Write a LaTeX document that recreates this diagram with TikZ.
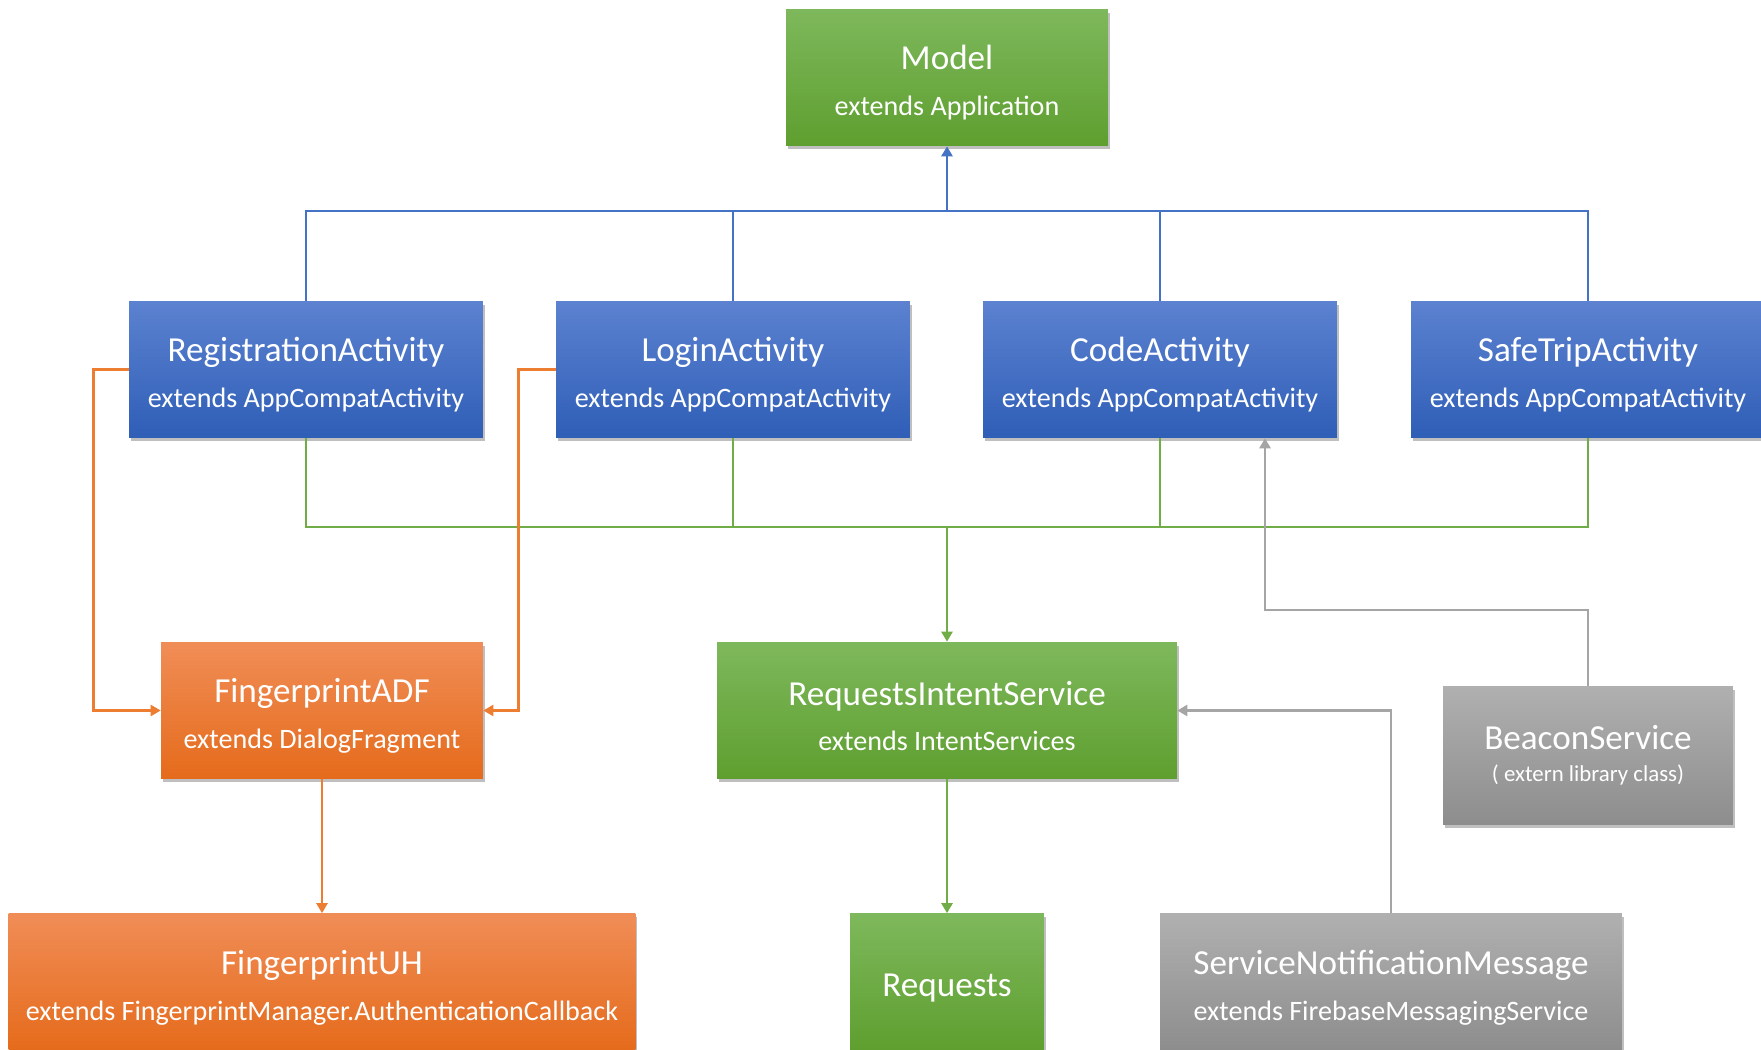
\documentclass[tikz,border=0pt]{standalone}
\usepackage{fontspec}
\setmainfont{Carlito}
\usetikzlibrary{arrows.meta,positioning,shadows}
\definecolor{lineblue}{HTML}{4472C4}
\definecolor{linegreen}{HTML}{70AD47}
\definecolor{lineorange}{HTML}{ED7D31}
\definecolor{linegray}{HTML}{A5A5A5}
\definecolor{bluetop}{HTML}{5C82D0}
\definecolor{bluebot}{HTML}{2F5EB7}
\definecolor{greentop}{HTML}{7EB85C}
\definecolor{greenbot}{HTML}{5E9F2F}
\definecolor{orangetop}{HTML}{F08D57}
\definecolor{orangebot}{HTML}{E56B1B}
\definecolor{graytop}{HTML}{B0B0B0}
\definecolor{graybot}{HTML}{8D8D8D}
\tikzset{
  classbox/.style={rectangle,align=center,text=white,inner sep=0pt,minimum height=2.74cm,
    font=\fontsize{16}{26}\selectfont,
    drop shadow={shadow xshift=0.04cm,shadow yshift=-0.07cm,opacity=0.25,fill=black}},
  bluebox/.style={classbox,top color=bluetop,bottom color=bluebot,minimum width=7.08cm},
  greenbox/.style={classbox,top color=greentop,bottom color=greenbot},
  orangebox/.style={classbox,top color=orangetop,bottom color=orangebot},
  graybox/.style={classbox,top color=graytop,bottom color=graybot},
  link/.style={line width=1.5pt},
  linkarrow/.style={link,-{Triangle[length=2mm,width=2.2mm]}}
}
\newcommand{\clsname}[1]{{\fontsize{20}{24}\selectfont\rule{0pt}{20pt}#1}}

\begin{document}
\begin{tikzpicture}[x=0.02cm,y=-0.02cm]
  \useasboundingbox (0,0) rectangle (1761,1050);
  % classes
  \node[greenbox,minimum width=6.44cm] (model) at (947,77.5) {\clsname{Model}\\extends Application};
  \node[bluebox] (reg) at (306,369.5) {\clsname{RegistrationActivity}\\extends AppCompatActivity};
  \node[bluebox] (login) at (733,369.5) {\clsname{LoginActivity}\\extends AppCompatActivity};
  \node[bluebox] (code) at (1160,369.5) {\clsname{CodeActivity}\\extends AppCompatActivity};
  \node[bluebox] (safe) at (1588,369.5) {\clsname{SafeTripActivity}\\extends AppCompatActivity};
  \node[orangebox,minimum width=6.44cm] (fadf) at (322,710.5) {\clsname{FingerprintADF}\\extends DialogFragment};
  \node[greenbox,minimum width=9.2cm] (ris) at (947,710.5) {\clsname{RequestsIntentService}\\extends IntentServices};
  \node[graybox,minimum width=5.8cm,minimum height=2.78cm,font=\fontsize{13}{18}\selectfont] (beacon) at (1588,755.5) {{\fontsize{20}{24}\selectfont BeaconService}\\( extern library class)};
  \node[orangebox,minimum width=12.54cm] (fuh) at (322,982) {\clsname{FingerprintUH}\\extends FingerprintManager.AuthenticationCallback};
  \node[greenbox,minimum width=3.88cm] (req) at (947,982) {\clsname{Requests}};
  \node[graybox,minimum width=9.24cm] (snm) at (1391,982) {\clsname{ServiceNotificationMessage}\\extends FirebaseMessagingService};

  % inheritance bus to Model
  \coordinate (bluebus) at (947,211);
  \draw[link,lineblue] (reg.north) |- (bluebus) -| (safe.north);
  \draw[link,lineblue] (login.north) -- (login.north |- bluebus);
  \draw[link,lineblue] (code.north) -- (code.north |- bluebus);
  \draw[linkarrow,lineblue] (bluebus) -- (model.south);

  % activities to the service
  \coordinate (greenbus) at (947,527);
  \draw[link,linegreen] (reg.south) |- (greenbus) -| (safe.south);
  \draw[link,linegreen] (login.south) -- (login.south |- greenbus);
  \draw[link,linegreen] (code.south) -- (code.south |- greenbus);
  \draw[linkarrow,linegreen] (greenbus) -- (ris.north);
  \draw[linkarrow,linegreen] (ris.south) -- (req.north);

  % fingerprint
  \draw[linkarrow,lineorange] (reg.west) -- ++(-35,0) |- (fadf.west);
  \draw[linkarrow,lineorange] (login.west) -- ++(-37,0) |- (fadf.east);
  \draw[linkarrow,lineorange] (fadf.south) -- (fuh.north);

  % services
  \coordinate (beaconbend) at (1265,610);
  \draw[linkarrow,linegray] (beacon.north) |- (beaconbend) -- (beaconbend |- code.south);
  \draw[linkarrow,linegray] (snm.north) |- (ris.east);
\end{tikzpicture}
\end{document}
